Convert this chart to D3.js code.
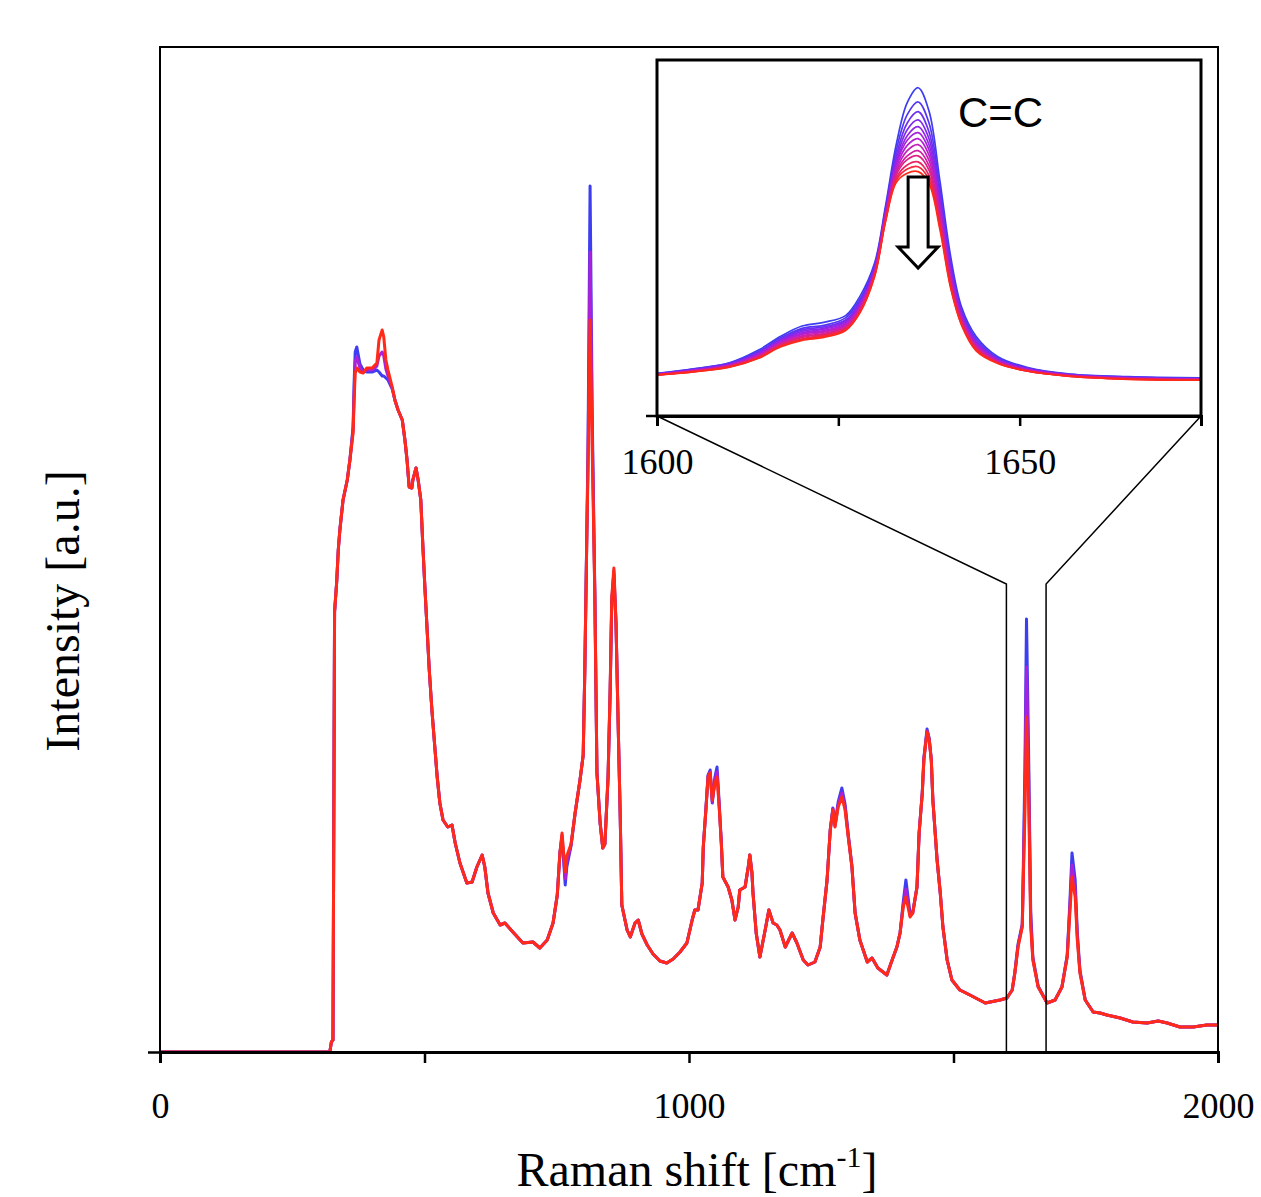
<!DOCTYPE html>
<html>
<head>
<meta charset="utf-8">
<script src="https://cdn.jsdelivr.net/npm/d3@7"></script>
<style>
  html, body { margin: 0; padding: 0; background: #fff; }
  svg { display: block; }
</style>
</head>
<body>
<svg id="chart" width="1261" height="1197"></svg>
<script>
// Raman shift [cm-1] of the sampled points of the full spectrum
const shift = [0, 321, 324, 327, 330, 334, 337, 340, 346, 354, 359, 365, 367, 369, 372, 378, 384, 391, 401, 410,
  414, 420, 423, 427, 431, 439, 444, 450, 458, 463, 467, 471, 476, 478, 484, 488, 493, 497, 501, 505,
  509, 514, 518, 524, 529, 535, 544, 552, 558, 567, 580, 590, 599, 609, 614, 620, 630, 643, 652, 667,
  686, 705, 718, 732, 743, 751, 756, 760, 766, 769, 777, 785, 794, 800, 803, 807, 809, 813, 817, 822,
  826, 832, 837, 841, 847, 851, 854, 858, 862, 866, 870, 873, 883, 889, 898, 904, 911, 921, 932, 945,
  958, 970, 983, 996, 1006, 1011, 1017, 1025, 1027, 1032, 1036, 1040, 1044, 1049, 1053, 1057, 1061, 1064, 1074, 1081,
  1087, 1093, 1096, 1106, 1112, 1115, 1119, 1121, 1127, 1134, 1144, 1151, 1159, 1166, 1172, 1182, 1195, 1204, 1216, 1225,
  1238, 1248, 1253, 1261, 1267, 1272, 1276, 1282, 1289, 1295, 1301, 1308, 1314, 1323, 1337, 1346, 1357, 1374, 1384, 1393,
  1399, 1405, 1410, 1418, 1423, 1431, 1435, 1441, 1444, 1450, 1454, 1458, 1461, 1469, 1475, 1480, 1488, 1497, 1512, 1531,
  1560, 1588, 1601, 1611, 1616, 1622, 1630, 1632, 1635, 1638, 1642, 1646, 1650, 1660, 1677, 1692, 1705, 1715, 1720, 1724,
  1730, 1734, 1739, 1749, 1764, 1777, 1790, 1815, 1839, 1866, 1887, 1904, 1928, 1953, 1979, 2000];

// first scan (blue)
const firstScan = [0, 0, 10, 12, 440, 470, 502, 522, 552, 572, 592, 625, 670, 700, 705, 688, 682, 680, 680, 682,
  680, 676, 676, 674, 672, 663, 652, 642, 632, 612, 592, 565, 564, 572, 584, 572, 552, 505, 462, 422,
  382, 342, 315, 275, 249, 232, 225, 227, 209, 189, 169, 170, 185, 197, 185, 159, 139, 127, 129, 120,
  109, 110, 104, 112, 129, 157, 199, 215, 167, 185, 206, 240, 272, 297, 380, 525, 600, 866, 640, 460,
  279, 229, 204, 208, 274, 360, 450, 478, 428, 330, 236, 147, 122, 115, 129, 132, 118, 107, 98, 91,
  89, 93, 100, 109, 132, 142, 142, 169, 205, 244, 277, 282, 249, 275, 285, 250, 211, 175, 165, 152,
  132, 145, 162, 165, 185, 197, 179, 159, 119, 95, 122, 142, 129, 127, 122, 105, 119, 109, 92, 87,
  90, 105, 132, 172, 222, 244, 228, 250, 264, 248, 218, 186, 139, 112, 90, 94, 84, 77, 92, 105,
  119, 150, 172, 138, 140, 165, 219, 260, 294, 323, 314, 293, 252, 192, 159, 125, 92, 72, 62, 57,
  49, 52, 54, 62, 80, 108, 128, 185, 285, 433, 300, 140, 95, 66, 49, 52, 65, 97, 150, 199,
  172, 120, 82, 52, 40, 39, 37, 34, 30, 29, 31, 29, 25, 25, 27, 27];

// a middle scan (purple)
const midScan = [0, 0, 10, 12, 440, 470, 502, 522, 552, 572, 592, 622, 660, 690, 695, 684, 680, 682, 682, 686,
  696, 700, 696, 683, 676, 664, 652, 642, 632, 612, 592, 565, 564, 572, 584, 572, 552, 505, 462, 422,
  382, 342, 315, 275, 249, 232, 225, 227, 209, 189, 169, 170, 185, 197, 185, 159, 139, 127, 129, 120,
  109, 110, 104, 112, 129, 157, 199, 217, 173, 190, 207, 240, 272, 297, 380, 522, 590, 800, 622, 458,
  279, 229, 204, 208, 275, 362, 452, 481, 429, 330, 236, 147, 122, 115, 129, 132, 118, 107, 98, 91,
  89, 93, 100, 109, 132, 142, 142, 169, 205, 243, 276, 280, 250, 272, 280, 247, 210, 175, 165, 152,
  132, 145, 162, 165, 185, 197, 179, 159, 119, 95, 122, 142, 129, 127, 122, 105, 119, 109, 92, 87,
  90, 105, 132, 172, 222, 243, 226, 247, 259, 245, 216, 185, 139, 112, 90, 94, 84, 77, 92, 105,
  119, 147, 163, 136, 139, 165, 219, 259, 293, 321, 313, 292, 252, 192, 159, 125, 92, 72, 62, 57,
  49, 52, 54, 62, 79, 106, 126, 178, 262, 385, 277, 132, 93, 65, 49, 52, 65, 96, 145, 187,
  163, 116, 80, 52, 40, 39, 37, 34, 30, 29, 31, 29, 25, 25, 27, 27];

// last scan (red)
const lastScan = [0, 0, 10, 12, 440, 470, 502, 522, 552, 572, 592, 619, 652, 679, 684, 680, 679, 684, 684, 689,
  712, 722, 715, 692, 682, 665, 652, 642, 632, 612, 592, 565, 564, 572, 584, 572, 552, 505, 462, 422,
  382, 342, 315, 275, 249, 232, 225, 227, 209, 189, 169, 170, 185, 197, 185, 159, 139, 127, 129, 120,
  109, 110, 104, 112, 129, 157, 199, 219, 180, 196, 208, 240, 272, 297, 380, 520, 580, 732, 605, 455,
  279, 229, 204, 208, 276, 365, 455, 484, 430, 330, 236, 147, 122, 115, 129, 132, 118, 107, 98, 91,
  89, 93, 100, 109, 132, 142, 142, 169, 205, 242, 275, 279, 252, 269, 275, 245, 209, 175, 165, 152,
  132, 145, 162, 165, 185, 197, 179, 159, 119, 95, 122, 142, 129, 127, 122, 105, 119, 109, 92, 87,
  90, 105, 132, 172, 222, 242, 225, 245, 255, 242, 215, 185, 139, 112, 90, 94, 84, 77, 92, 105,
  119, 145, 155, 135, 139, 165, 219, 259, 292, 320, 312, 292, 252, 192, 159, 125, 92, 72, 62, 57,
  49, 52, 54, 62, 79, 105, 125, 172, 239, 335, 255, 125, 92, 65, 49, 52, 65, 95, 139, 175,
  155, 112, 79, 52, 40, 39, 37, 34, 30, 29, 31, 29, 25, 25, 27, 27];

// inset: C=C band, 13 scans from first (blue) to last (red)
const insetShift = [1600, 1605, 1610, 1614, 1617, 1620, 1623, 1626, 1628, 1630, 1631.5, 1633, 1634.5, 1636,
  1637.5, 1639, 1640.5, 1642, 1644, 1647, 1651, 1657, 1665, 1675];
const insetScans = [
  [52, 58, 66, 83, 101, 115, 120, 129, 155, 199, 275, 358, 413, 433, 402, 309, 207, 140, 101, 74, 60, 51, 47.5, 46],
  [51.5, 57.5, 65.5, 81, 99, 112, 116, 126, 151, 196, 271, 350, 397, 414, 386, 298, 200, 136, 98, 72, 59, 50.5, 47, 45],
  [51, 57, 65, 80, 97, 110, 114, 123, 148, 194, 269, 343, 386, 401, 374, 290, 195, 133, 95, 71, 59, 50, 46.5, 45],
  [51, 56.5, 64, 79, 96, 108, 112, 121, 146, 192, 267, 338, 377, 390, 365, 284, 191, 131, 94, 70, 58, 50, 46, 44.5],
  [51, 56, 63.5, 78, 95, 106, 111, 120, 144, 190, 265, 334, 369, 381, 357, 279, 187, 129, 92, 70, 57.5, 49.5, 46, 44.5],
  [51, 56, 63, 77, 94, 105, 109, 118, 143, 189, 264, 331, 363, 373, 350, 274, 184, 127, 91, 69, 57, 49.5, 45.5, 44],
  [50.5, 55.5, 62.5, 76, 93, 104, 108, 117, 141, 188, 262, 327, 356, 365, 343, 270, 181, 125, 90, 68, 57, 49, 45.5, 44],
  [50.5, 55, 62, 75.5, 92, 102, 107, 115, 140, 187, 261, 323, 349, 357, 336, 265, 178, 124, 88, 68, 56.5, 49, 45, 44],
  [50, 55, 62, 75, 91, 101, 105, 114, 138, 185, 259, 320, 342, 349, 329, 260, 175, 122, 87, 67, 56, 48.5, 45, 43.5],
  [50, 54.5, 61.5, 74, 90, 100, 104, 113, 137, 184, 258, 317, 337, 342, 323, 256, 173, 120, 86, 66.5, 55.5, 48.5, 45, 43.5],
  [50, 54.5, 61, 73, 89, 98, 103, 111, 135, 183, 256, 313, 330, 334, 316, 252, 170, 119, 85, 66, 55, 48, 44.5, 43],
  [50, 54, 60.5, 72.5, 88, 97, 101.5, 110, 134, 182, 255, 310, 324.5, 327.5, 310.5, 248, 167, 117, 83.5, 65.5, 55, 48, 44.5, 43],
  [50, 54, 60, 72, 87, 96, 100, 109, 133, 181, 254, 307, 319, 321, 305, 244, 165, 116, 82, 65, 55, 48, 44, 43]
];

const mainTicks = [0, 500, 1000, 1500, 2000];
const mainTickLabels = [0, 1000, 2000];
const insetTicks = [1600, 1625, 1650, 1675];
const insetTickLabels = [1600, 1650];
const peakShift = 1636;

const svg = d3.select("#chart");
const serif = "'Liberation Serif', 'Times New Roman', serif";

const plot = { left: 160, right: 1218, top: 47, bottom: 1052 };
const box = { left: 657, right: 1201, top: 60, bottom: 416 };

const x = d3.scaleLinear().domain([0, 2000]).range([plot.left, plot.right]);
const y = d3.scaleLinear().domain([0, 1005]).range([plot.bottom, plot.top]);
const xIn = d3.scaleLinear().domain([1600, 1675]).range([box.left, box.right]);
const yIn = d3.scaleLinear().domain([-5, 470]).range([box.bottom, box.top]);

const scanColor = d3.interpolateRgbBasis(["#3d3df2", "#9a20f2", "#d21eb0", "#ff2a18"]);

// ---- main spectra
const line = d3.line().x(d => x(d[0])).y(d => y(d[1]));
const mainSeries = [
  { values: firstScan, color: scanColor(0) },
  { values: midScan, color: scanColor(0.45) },
  { values: lastScan, color: scanColor(1) }
];
svg.append("g")
  .selectAll("path")
  .data(mainSeries)
  .enter().append("path")
  .attr("d", s => line(shift.map((w, i) => [w, s.values[i]])))
  .attr("fill", "none")
  .attr("stroke", s => s.color)
  .attr("stroke-width", 3)
  .attr("stroke-linejoin", "round");

// frame
svg.append("rect")
  .attr("x", plot.left).attr("y", plot.top)
  .attr("width", plot.right - plot.left).attr("height", plot.bottom - plot.top)
  .attr("fill", "none").attr("stroke", "#000").attr("stroke-width", 2);

// x axis
const xAxis = d3.axisBottom(x)
  .tickValues(mainTicks)
  .tickSize(11)
  .tickPadding(29)
  .tickFormat(d => mainTickLabels.includes(d) ? d : "");
const gx = svg.append("g").attr("transform", `translate(0,${plot.bottom})`).call(xAxis);
gx.select(".domain").attr("stroke-width", 3);
gx.selectAll(".tick line").attr("stroke-width", 2.5);
gx.selectAll("text").attr("font-family", serif).attr("font-size", 36).attr("fill", "#000");

// y axis tick (only the zero)
const gy = svg.append("g").attr("transform", `translate(${plot.left},0)`)
  .call(d3.axisLeft(y).tickValues([0]).tickSize(12).tickFormat(""));
gy.select(".domain").remove();
gy.selectAll(".tick line").attr("stroke-width", 2.5);

// axis titles
const xt = svg.append("text")
  .attr("x", 697).attr("y", 1186)
  .attr("text-anchor", "middle")
  .attr("font-family", serif).attr("font-size", 48);
xt.append("tspan").text("Raman shift [cm");
xt.append("tspan").attr("font-size", 30).attr("dy", -19).text("-1");
xt.append("tspan").attr("dy", 19).text("]");

svg.append("text")
  .attr("transform", "translate(79,611) rotate(-90)")
  .attr("text-anchor", "middle")
  .attr("font-family", serif).attr("font-size", 48)
  .text("Intensity [a.u.]");

// ---- zoom guides
const joinY = 584;
const guide = svg.append("g").attr("fill", "none").attr("stroke", "#000").attr("stroke-width", 1.5);
guide.append("path").attr("d", `M${box.left},${box.bottom}L${x(1600)},${joinY}L${x(1600)},${plot.bottom}`);
guide.append("path").attr("d", `M${box.right},${box.bottom}L${x(1675)},${joinY}L${x(1675)},${plot.bottom}`);

// ---- inset
const inset = svg.append("g");
inset.append("rect")
  .attr("x", box.left).attr("y", box.top)
  .attr("width", box.right - box.left).attr("height", box.bottom - box.top)
  .attr("fill", "#fff");
inset.append("clipPath").attr("id", "insetClip")
  .append("rect")
  .attr("x", box.left).attr("y", box.top)
  .attr("width", box.right - box.left).attr("height", box.bottom - box.top);

const lineIn = d3.line().x(d => xIn(d[0])).y(d => yIn(d[1])).curve(d3.curveCatmullRom.alpha(0.5));
inset.append("g").attr("clip-path", "url(#insetClip)")
  .selectAll("path")
  .data(insetScans)
  .enter().append("path")
  .attr("d", s => lineIn(insetShift.map((w, i) => [w, s[i]])))
  .attr("fill", "none")
  .attr("stroke", (s, i) => scanColor(i / (insetScans.length - 1)))
  .attr("stroke-width", 1.7);

inset.append("rect")
  .attr("x", box.left).attr("y", box.top)
  .attr("width", box.right - box.left).attr("height", box.bottom - box.top)
  .attr("fill", "none").attr("stroke", "#000").attr("stroke-width", 3);

const ix = inset.append("g").attr("transform", `translate(0,${box.bottom})`)
  .call(d3.axisBottom(xIn).tickValues(insetTicks).tickSize(10).tickPadding(22)
    .tickFormat(d => insetTickLabels.includes(d) ? d : ""));
ix.select(".domain").attr("stroke-width", 3);
ix.selectAll(".tick line").attr("stroke-width", 2.5);
ix.selectAll("text").attr("font-family", serif).attr("font-size", 36).attr("fill", "#000");
inset.append("line")
  .attr("x1", box.left - 11).attr("x2", box.left)
  .attr("y1", box.bottom).attr("y2", box.bottom)
  .attr("stroke", "#000").attr("stroke-width", 2.5);

// arrow: intensity decreasing
const ax = xIn(peakShift);
inset.append("path")
  .attr("d", `M${ax - 10},177 L${ax + 10},177 L${ax + 10},247 L${ax + 20},247 L${ax},268 L${ax - 20},247 L${ax - 10},247 Z`)
  .attr("fill", "#fff").attr("stroke", "#000").attr("stroke-width", 3)
  .attr("stroke-linejoin", "miter");

inset.append("text")
  .attr("x", 958).attr("y", 127)
  .attr("font-family", "'Liberation Sans', Arial, sans-serif").attr("font-size", 42)
  .text("C=C");
</script>
</body>
</html>
